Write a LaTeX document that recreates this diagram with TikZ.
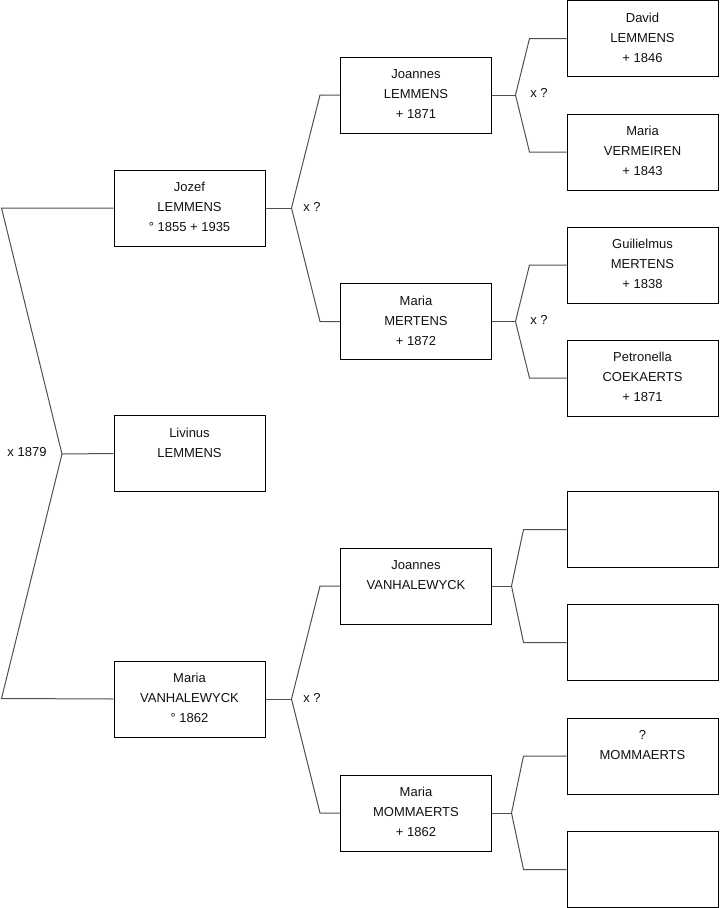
\documentclass[tikz,border=0pt]{standalone}
\usepackage{fontspec}
\setmainfont{Liberation Sans}
\usetikzlibrary{calc}
\definecolor{conncol}{HTML}{505050}
\definecolor{txtcol}{HTML}{111111}
\newcommand{\person}[4]{\node[person] (#1) at (#2,#3) {};
  \node[ptext] (#1-t) at (#1.north) {\strut #4};}
\newcommand{\emptyperson}[3]{\node[person] (#1) at (#2,#3) {};}
\begin{document}
\begin{tikzpicture}[x=0.75pt,y=-0.75pt,
  person/.style={draw=black,line width=0.75pt,minimum width=113.25pt,minimum height=57pt,inner sep=0pt},
  ptext/.style={anchor=north,inner sep=0pt,align=center,text=txtcol,font=\fontsize{9.75pt}{15pt}\selectfont,yshift=-6pt},
  conn/.style={draw=conncol,line width=0.75pt},
  lbl/.style={inner sep=0pt,text=txtcol,font=\fontsize{9.75pt}{12pt}\selectfont}]
\useasboundingbox (0,0) rectangle (719,908);
% column 1
\person{jozef}{189.5}{208}{Jozef\\LEMMENS\\\textdegree{} 1855 + 1935}
\person{livinus}{189.5}{453.5}{Livinus\\LEMMENS}
\person{mariav}{189.5}{699}{Maria\\VANHALEWYCK\\\textdegree{} 1862}
% column 2
\person{joannesl}{416}{95}{Joannes\\LEMMENS\\+ 1871}
\person{mariam}{416}{321.5}{Maria\\MERTENS\\+ 1872}
\person{joannesv}{416}{586}{Joannes\\VANHALEWYCK}
\person{mariamom}{416}{813}{Maria\\MOMMAERTS\\+ 1862}
% column 3
\person{david}{642.5}{38.5}{David\\LEMMENS\\+ 1846}
\person{mariaverm}{642.5}{152}{Maria\\VERMEIREN\\+ 1843}
\person{guil}{642.5}{265}{Guilielmus\\MERTENS\\+ 1838}
\person{petr}{642.5}{378}{Petronella\\COEKAERTS\\+ 1871}
\emptyperson{e1}{642.5}{529.5}
\emptyperson{e2}{642.5}{642.5}
\person{qmom}{642.5}{756}{?\\MOMMAERTS}
\emptyperson{e4}{642.5}{869.5}
% left bracket
\coordinate (lt) at (1.5,208);
\coordinate (lm) at (62,454);
\coordinate (lb) at (1.5,698.5);
\draw[conn] (jozef.west) -- (lt) -- (lm) -- (lb) -- (mariav.west);
\draw[conn] (lm) -- (livinus.west);
\node[lbl] (m1879) at (27,452) {x 1879};
% col1 -> col2 brackets
\coordinate (j1) at ($(jozef.east)+(26,0)$);
\draw[conn] (joannesl.west) -- ([xshift=-15pt]joannesl.west) -- (j1) -- ([xshift=-15pt]mariam.west) -- (mariam.west);
\draw[conn] (jozef.east) -- (j1);
\node[lbl] (mj1) at (312,207) {x ?};
\coordinate (j2) at ($(mariav.east)+(26,0)$);
\draw[conn] (joannesv.west) -- ([xshift=-15pt]joannesv.west) -- (j2) -- ([xshift=-15pt]mariamom.west) -- (mariamom.west);
\draw[conn] (mariav.east) -- (j2);
\node[lbl] (mj2) at (312,698) {x ?};
% col2 -> col3 brackets
\coordinate (k1) at ($(joannesl.east)+(23.5,0)$);
\draw[conn] (david.west) -- ([xshift=-27.75pt]david.west) -- (k1) -- ([xshift=-27.75pt]mariaverm.west) -- (mariaverm.west);
\draw[conn] (joannesl.east) -- (k1);
\node[lbl] (mk1) at (539,93) {x ?};
\coordinate (k2) at ($(mariam.east)+(23.5,0)$);
\draw[conn] (guil.west) -- ([xshift=-27.75pt]guil.west) -- (k2) -- ([xshift=-27.75pt]petr.west) -- (petr.west);
\draw[conn] (mariam.east) -- (k2);
\node[lbl] (mk2) at (539,320) {x ?};
\coordinate (k3) at ($(joannesv.east)+(19.5,0)$);
\draw[conn] (e1.west) -- ([xshift=-32.25pt]e1.west) -- (k3) -- ([xshift=-32.25pt]e2.west) -- (e2.west);
\draw[conn] (joannesv.east) -- (k3);
\coordinate (k4) at ($(mariamom.east)+(19.5,0)$);
\draw[conn] (qmom.west) -- ([xshift=-32.25pt]qmom.west) -- (k4) -- ([xshift=-32.25pt]e4.west) -- (e4.west);
\draw[conn] (mariamom.east) -- (k4);
\end{tikzpicture}
\end{document}
